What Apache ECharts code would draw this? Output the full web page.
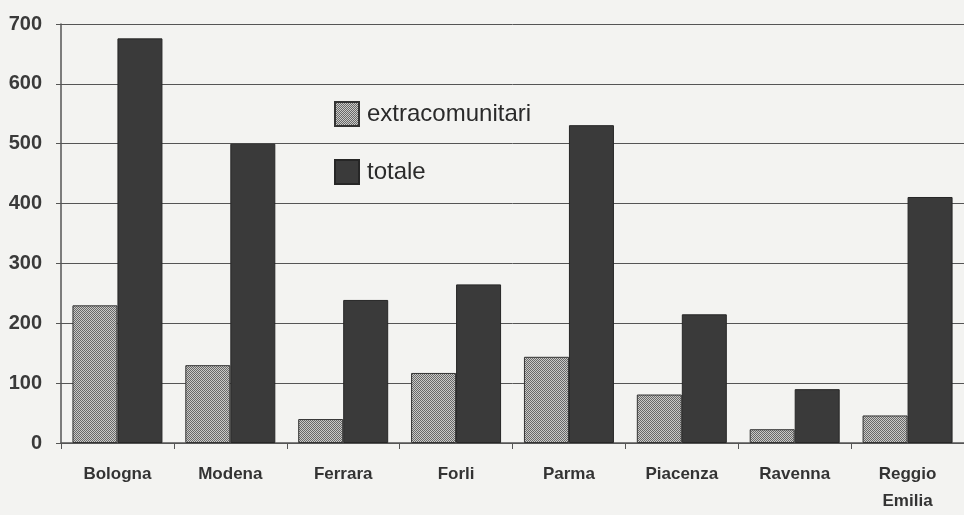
<!DOCTYPE html>
<html>
<head>
<meta charset="utf-8">
<script src="https://cdn.jsdelivr.net/npm/echarts@6/dist/echarts.min.js"></script>
<style>
  html, body { margin: 0; padding: 0; background: #f3f3f1; }
  #chart { width: 964px; height: 515px; }
</style>
</head>
<body>
<div id="chart"></div>
<script>
// Province categories and counts
const provinces = ['Bologna', 'Modena', 'Ferrara', 'Forli', 'Parma', 'Piacenza', 'Ravenna', 'Reggio\nEmilia'];
const extracomunitari = [230, 130, 40, 117, 144, 81, 23, 46];
const totale = [676, 500, 239, 265, 531, 215, 90, 411];
const yTicks = [0, 100, 200, 300, 400, 500, 600, 700];

// Fine checker texture for the "extracomunitari" bars
function checkerPattern() {
  const c = document.createElement('canvas');
  c.width = 2; c.height = 2;
  const g = c.getContext('2d');
  g.fillStyle = '#cacac8';
  g.fillRect(0, 0, 2, 2);
  g.fillStyle = '#686868';
  g.fillRect(0, 0, 1, 1);
  g.fillRect(1, 1, 1, 1);
  return { image: c, repeat: 'repeat' };
}
const checker = checkerPattern();

const chart = echarts.init(document.getElementById('chart'));
chart.setOption({
  backgroundColor: '#f3f3f1',
  animation: false,
  textStyle: { fontFamily: 'Liberation Sans, Arial, sans-serif' },
  legend: {
    orient: 'vertical',
    left: 329,
    top: 96,
    itemWidth: 24,
    itemHeight: 24,
    itemGap: 32,
    icon: 'rect',
    textStyle: { fontSize: 24, color: '#2a2a2a', fontFamily: 'Liberation Sans, Arial, sans-serif', padding: [0, 0, 0, 3] },
    data: ['extracomunitari', 'totale']
  },
  grid: { left: 61, top: 24, width: 908, height: 424 },
  xAxis: {
    type: 'category',
    data: provinces,
    axisLine: { lineStyle: { color: '#555', width: 1.5 } },
    axisTick: { show: true, length: 6, lineStyle: { color: '#555' } },
    axisLabel: {
      margin: 18,
      fontSize: 17,
      fontWeight: 'bold',
      lineHeight: 27,
      color: '#333',
      interval: 0
    }
  },
  yAxis: {
    type: 'value',
    min: yTicks[0],
    max: yTicks[yTicks.length - 1],
    interval: 100,
    axisLine: { show: true, lineStyle: { color: '#555', width: 1.5 } },
    axisTick: { show: true, length: 5, lineStyle: { color: '#555' } },
    splitLine: { lineStyle: { color: '#555', width: 1 } },
    axisLabel: {
      margin: 19,
      fontSize: 20,
      fontWeight: 'bold',
      color: '#3a3a3a'
    }
  },
  series: [
    {
      name: 'extracomunitari',
      type: 'bar',
      data: extracomunitari,
      barWidth: 45,
      barGap: '0%',
      itemStyle: { color: checker, borderColor: '#333', borderWidth: 1 }
    },
    {
      name: 'totale',
      type: 'bar',
      data: totale,
      barWidth: 45,
      itemStyle: { color: '#3a3a3a', borderColor: '#262626', borderWidth: 1 }
    }
  ]
});
</script>
</body>
</html>
